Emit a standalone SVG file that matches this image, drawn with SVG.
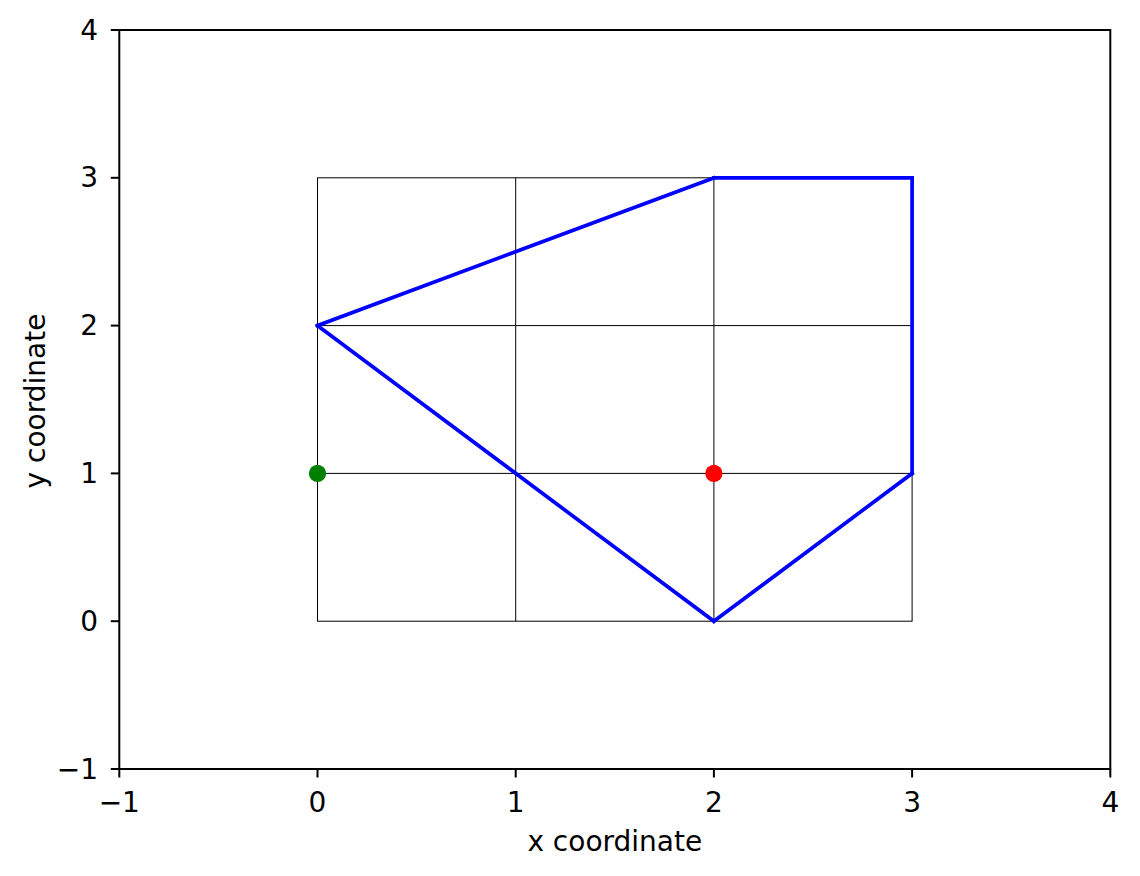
<svg xmlns="http://www.w3.org/2000/svg" width="1140" height="876" viewBox="0 0 1140 876">
<style>
.t{font-family:"DejaVu Sans",sans-serif;font-size:28px;fill:#000}
.xt{text-anchor:middle}
.yt{text-anchor:end;dominant-baseline:central}
.grid{stroke:#000;stroke-width:1;fill:none}
.edge{stroke:#0000ff;stroke-width:3.7;fill:none;stroke-linecap:square}
.tick{stroke:#000;stroke-width:2}
</style>
<rect width="1140" height="876" fill="#fff"/>
<g id="grid" class="grid">
<rect x="317.5" y="177.8" width="594.6" height="443.4"/>
<line x1="515.7" y1="177.8" x2="515.7" y2="621.2"/>
<line x1="713.9" y1="177.8" x2="713.9" y2="621.2"/>
<line x1="317.5" y1="325.6" x2="912.1" y2="325.6"/>
<line x1="317.5" y1="473.4" x2="912.1" y2="473.4"/>
</g>
<g id="connectors">
<line class="edge" x1="713.9" y1="177.8" x2="912.1" y2="177.8"/>
<line class="edge" x1="912.1" y1="177.8" x2="912.1" y2="473.4"/>
<line class="edge" x1="912.1" y1="473.4" x2="713.9" y2="621.2"/>
<line class="edge" x1="713.9" y1="621.2" x2="317.5" y2="325.6"/>
<line class="edge" x1="317.5" y1="325.6" x2="713.9" y2="177.8"/>
</g>
<g id="start"><circle cx="317.5" cy="473.4" r="8.6" fill="#008000"/></g>
<g id="end"><circle cx="713.9" cy="473.4" r="8.6" fill="#ff0000"/></g>
<g id="axes">
<rect x="119.3" y="30" width="991" height="739" fill="none" stroke="#000" stroke-width="2"/>
<g class="tick">
<line x1="119.3" y1="769" x2="119.3" y2="777.5"/>
<line x1="317.5" y1="769" x2="317.5" y2="777.5"/>
<line x1="515.7" y1="769" x2="515.7" y2="777.5"/>
<line x1="713.9" y1="769" x2="713.9" y2="777.5"/>
<line x1="912.1" y1="769" x2="912.1" y2="777.5"/>
<line x1="1110.3" y1="769" x2="1110.3" y2="777.5"/>
<line x1="110.8" y1="769" x2="119.3" y2="769"/>
<line x1="110.8" y1="621.2" x2="119.3" y2="621.2"/>
<line x1="110.8" y1="473.4" x2="119.3" y2="473.4"/>
<line x1="110.8" y1="325.6" x2="119.3" y2="325.6"/>
<line x1="110.8" y1="177.8" x2="119.3" y2="177.8"/>
<line x1="110.8" y1="30" x2="119.3" y2="30"/>
</g>
<g class="t xt">
<text x="119.3" y="812">−1</text>
<text x="317.5" y="812">0</text>
<text x="515.7" y="812">1</text>
<text x="713.9" y="812">2</text>
<text x="912.1" y="812">3</text>
<text x="1110.3" y="812">4</text>
</g>
<g class="t yt">
<text x="98" y="769">−1</text>
<text x="98" y="621.2">0</text>
<text x="98" y="473.4">1</text>
<text x="98" y="325.6">2</text>
<text x="98" y="177.8">3</text>
<text x="98" y="30">4</text>
</g>
<text class="t xt" x="614.8" y="851">x coordinate</text>
<text class="t xt" transform="translate(45,401) rotate(-90)">y coordinate</text>
</g>
</svg>
